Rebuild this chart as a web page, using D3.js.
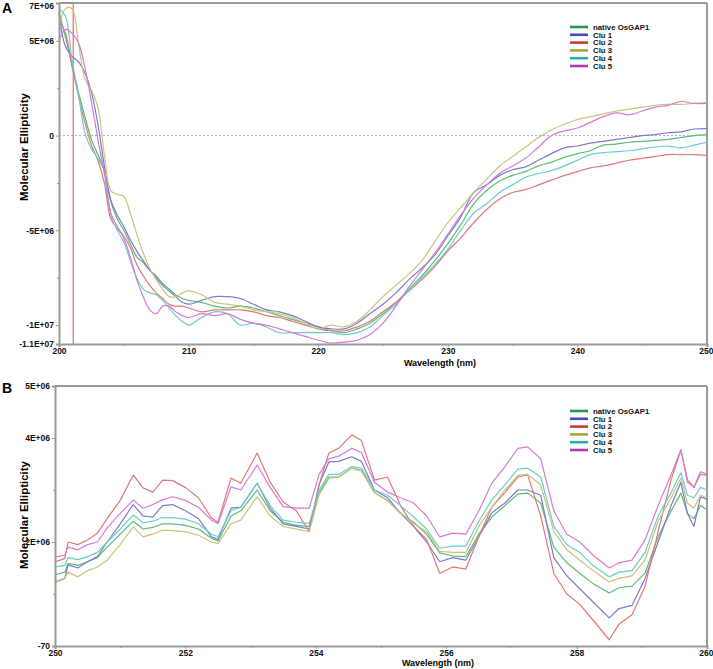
<!DOCTYPE html>
<html><head><meta charset="utf-8">
<script src="https://cdn.jsdelivr.net/npm/d3@7"></script>
<style>
body{margin:0;background:#fff;}
svg{display:block;font-family:"Liberation Sans",Arial,sans-serif;}
.tick text{font-weight:bold;fill:#111;}
</style></head><body>
<svg id="chart" width="713" height="669"></svg>
<script>
// ---------- DATA (values in units of 1E+06) ----------
const seriesNames = ["native OsGAP1","Clu 1","Clu 2","Clu 3","Clu 4","Clu 5"];

// Panel A : 200-250 nm
const wavelengthA = [200,200.5,201,201.5,202,202.5,203,203.5,204,204.5,205,205.5,206,206.5,207,207.5,208,208.5,209,209.5,210,
 211,212,213,214,215,216,217,218,219,220,221,222,223,224,225,226,227,228,229,230,231,232,233,234,235,236,237,238,239,240,241,242,243,244,245,246,247,248,249,250];
const nativeA = [6.5,5.2,3.7,2.3,1.0,-0.2,-1.0,-1.8,-3.5,-4.4,-5.0,-5.7,-6.4,-6.7,-7.1,-7.4,-7.8,-8.1,-8.4,-8.6,-8.7,
 -8.8,-9.0,-9.1,-9.0,-9.1,-9.3,-9.5,-9.7,-9.9,-10.1,-10.3,-10.4,-10.2,-9.9,-9.4,-8.8,-8.1,-7.4,-6.6,-5.7,-4.7,-3.6,-2.9,-2.4,-2.1,-1.9,-1.6,-1.4,-1.15,-0.95,-0.8,-0.5,-0.45,-0.35,-0.3,-0.25,-0.2,-0.1,0.0,0.05];
const clu1A = [6.5,4.7,4.2,3.9,3.3,2.3,0.6,-1.6,-3.4,-4.2,-4.8,-5.5,-6.1,-6.6,-7.1,-7.5,-7.9,-8.2,-8.5,-8.8,-8.9,
 -8.7,-8.5,-8.5,-8.6,-8.9,-9.2,-9.3,-9.5,-9.8,-10.1,-10.2,-10.2,-9.9,-9.4,-8.9,-8.3,-7.6,-7.0,-6.3,-5.3,-4.3,-3.0,-2.6,-2.1,-1.8,-1.65,-1.3,-0.95,-0.65,-0.55,-0.4,-0.3,-0.2,-0.1,0.0,0.05,0.15,0.2,0.35,0.37];
const clu2A = [6.1,5.4,3.7,2.1,0.7,-0.5,-1.3,-2.5,-4.4,-4.9,-5.3,-5.9,-6.8,-7.4,-7.9,-8.3,-8.6,-8.9,-9.0,-9.0,-9.1,
 -9.3,-9.2,-9.2,-9.2,-9.3,-9.5,-9.6,-9.8,-10.0,-10.2,-10.3,-10.3,-10.1,-9.8,-9.3,-8.8,-8.2,-7.6,-6.9,-6.1,-5.4,-4.6,-3.9,-3.35,-3.0,-2.85,-2.6,-2.35,-2.1,-1.9,-1.7,-1.6,-1.45,-1.3,-1.2,-1.1,-1.0,-1.0,-1.0,-1.05];
const clu3A = [5.6,6.7,6.7,4.9,3.0,2.4,1.5,-1.0,-2.9,-3.1,-3.2,-4.1,-5.2,-6.2,-7.0,-7.6,-8.1,-8.5,-8.5,-8.3,-8.2,
 -8.4,-8.8,-8.9,-9.0,-9.2,-9.3,-9.4,-9.6,-9.9,-10.2,-10.0,-10.1,-9.8,-9.2,-8.5,-7.9,-7.3,-6.6,-5.6,-4.6,-3.8,-3.0,-2.3,-1.6,-1.1,-0.6,-0.1,0.3,0.6,0.85,1.0,1.15,1.3,1.4,1.5,1.6,1.65,1.65,1.7,1.75];
const clu4A = [6.7,6.3,4.0,2.2,0.15,-0.7,-1.2,-1.9,-4.2,-5.0,-5.6,-6.6,-7.5,-8.1,-8.3,-8.4,-8.7,-9.1,-9.5,-9.8,-10.0,
 -9.6,-9.3,-9.4,-10.0,-9.9,-10.1,-10.4,-10.4,-10.4,-10.4,-10.4,-10.5,-10.4,-10.1,-9.5,-8.9,-8.2,-7.5,-6.8,-6.0,-5.0,-4.1,-3.6,-3.0,-2.6,-2.2,-2.0,-1.85,-1.6,-1.3,-1.0,-0.9,-0.85,-0.8,-0.7,-0.6,-0.55,-0.65,-0.5,-0.35];
const clu5A = [5.0,5.6,5.4,4.9,3.6,1.8,-0.2,-2.0,-4.1,-4.8,-5.4,-6.4,-7.6,-8.5,-9.2,-9.4,-9.0,-9.0,-9.3,-9.5,-9.6,
 -9.4,-9.5,-9.4,-9.7,-9.9,-10.0,-10.2,-10.4,-10.6,-10.8,-10.95,-10.9,-10.8,-10.5,-9.9,-9.0,-8.0,-7.1,-6.2,-5.2,-4.2,-3.3,-2.6,-2.0,-1.6,-1.2,-0.6,0.0,0.25,0.4,0.7,1.0,1.2,1.1,1.3,1.5,1.6,1.8,1.7,1.7];

// Panel B : 250-260 nm
const wavelengthB = [250.0,250.15,250.2,250.35,250.5,250.65,250.8,251.0,251.2,251.35,251.5,251.65,251.8,252.0,252.2,252.4,252.5,252.7,252.85,253.1,
 253.3,253.5,253.7,253.9,254.05,254.2,254.35,254.55,254.7,254.9,255.1,255.3,255.5,255.7,255.9,256.1,256.3,256.5,256.7,256.9,
 257.1,257.25,257.45,257.65,257.85,258.05,258.25,258.5,258.65,258.85,259.05,259.25,259.45,259.6,259.7,259.8,259.9,260.0];
const nativeB = [1.37,1.42,1.59,1.55,1.62,1.7,1.9,2.15,2.4,2.25,2.28,2.35,2.35,2.32,2.25,2.07,2.02,2.5,2.6,3.0,
 2.6,2.38,2.32,2.3,2.95,3.25,3.25,3.42,3.38,2.95,2.8,2.55,2.38,2.15,1.79,1.73,1.72,2.15,2.48,2.7,
 2.92,2.94,2.75,1.9,1.6,1.4,1.2,1.02,1.12,1.15,1.4,2.1,2.6,2.94,2.55,2.45,2.7,2.62];
const clu1B = [1.23,1.3,1.56,1.5,1.62,1.72,2.0,2.35,2.72,2.5,2.48,2.7,2.72,2.6,2.45,2.1,2.05,2.65,2.67,3.13,
 2.65,2.35,2.3,2.25,3.1,3.54,3.55,3.64,3.55,3.0,2.85,2.55,2.3,2.0,1.62,1.7,1.65,2.1,2.56,2.75,
 3.0,3.0,2.9,1.7,1.35,1.1,0.85,0.54,0.72,0.78,1.3,2.0,2.7,3.15,2.55,2.3,2.87,2.82];
const clu2B = [1.62,1.68,2.0,1.95,2.04,2.17,2.45,2.8,3.29,3.04,2.96,3.19,3.18,3.05,2.85,2.46,2.38,3.23,3.13,3.71,
 3.15,2.77,2.6,2.2,3.1,3.71,3.8,4.06,3.95,3.19,3.25,2.7,2.3,2.05,1.4,1.52,1.48,2.1,2.67,2.95,
 3.25,3.29,2.5,1.4,1.0,0.8,0.5,0.12,0.42,0.6,1.15,2.2,3.2,3.77,3.2,3.05,3.35,3.3];
const clu3B = [1.21,1.3,1.42,1.33,1.45,1.52,1.65,1.95,2.29,2.1,2.15,2.23,2.22,2.2,2.13,2.0,1.97,2.35,2.42,2.87,
 2.5,2.3,2.25,2.2,2.9,3.22,3.25,3.42,3.36,2.95,2.8,2.55,2.35,2.2,1.82,1.8,1.8,2.3,2.67,3.0,
 3.28,3.3,3.1,2.2,1.85,1.65,1.45,1.23,1.3,1.35,1.65,2.4,2.85,3.23,2.75,2.65,2.9,2.85];
const clu4B = [1.52,1.55,1.7,1.66,1.72,1.8,2.0,2.25,2.52,2.37,2.4,2.47,2.47,2.44,2.35,2.15,2.1,2.6,2.67,3.13,
 2.7,2.42,2.38,2.36,3.0,3.3,3.3,3.45,3.42,3.0,2.9,2.7,2.48,2.25,1.88,1.92,1.92,2.4,2.81,3.1,
 3.4,3.42,3.25,2.3,1.95,1.8,1.55,1.33,1.42,1.45,1.8,2.5,2.95,3.33,2.9,2.85,3.05,3.0];
const clu5B = [1.71,1.75,1.9,1.85,1.95,2.0,2.27,2.55,2.81,2.65,2.72,2.81,2.87,2.8,2.67,2.42,2.35,3.06,3.0,3.48,
 3.05,2.68,2.65,2.65,3.3,3.6,3.65,3.8,3.72,3.15,2.96,2.85,2.75,2.5,2.1,2.17,2.15,2.6,3.13,3.45,
 3.8,3.83,3.6,2.6,2.15,2.0,1.75,1.5,1.6,1.65,2.04,2.7,3.3,3.77,3.15,3.05,3.3,3.28];

// Ticks
const yTicksA = [7,5,0,-5,-10,-11];
const yTickLabelsA = ["7E+06","5E+06","0","-5E+06","-1E+07","-1.1E+07"];
const yMinorA = [2.5,-2.5,-7.5];
const xTicksA = [200,210,220,230,240,250];
const xMinorA = [205,215,225,235,245];
const yTicksB = [-0.00007,2,4,5];
const yTickLabelsB = ["-70","2E+06","4E+06","5E+06"];
const yMinorB = [1,3];
const xTicksB = [250,252,254,256,258,260];
const xMinorB = [251,253,255,257,259];
const markerWavelength = 201.1;

// ---------- STYLE ----------
const lineColors = ["#5bbd72","#7b7bd0","#e07878","#c9c47c","#6ccccc","#d77ad6"];
const legendColors = ["#1e9a45","#4848b8","#c83a3a","#a6a43a","#2aacac","#b53ab5"];
const axisColor = "#9a9a9a";

const svg = d3.select("#chart");

function panel(opt){
  const {x0,x1,y0,y1,xDom,yDom,wl,series,yTicks,yLabels,yMinor,xTicks,xMinor,legendY,yTitleY,xTitleY,letter,letterY} = opt;
  const x = d3.scaleLinear().domain(xDom).range([x0,x1]);
  const y = d3.scaleLinear().domain(yDom).range([y1,y0]);
  const g = svg.append("g");

  // frame (top + right)
  g.append("line").attr("x1",x0).attr("x2",x1).attr("y1",y0).attr("y2",y0).attr("stroke",axisColor).attr("stroke-width",2);
  g.append("line").attr("x1",x1).attr("x2",x1).attr("y1",y0).attr("y2",y1).attr("stroke",axisColor).attr("stroke-width",2);

  if(opt.zeroLine){
    g.append("line").attr("x1",x0).attr("x2",x1).attr("y1",y(0)).attr("y2",y(0))
     .attr("stroke","#aaa").attr("stroke-width",1).attr("stroke-dasharray","2,2");
  }
  if(opt.marker){
    g.append("line").attr("x1",x(opt.marker)).attr("x2",x(opt.marker)).attr("y1",y0).attr("y2",y1)
     .attr("stroke","#ee7777").attr("stroke-width",1.3);
  }

  const line = d3.line().x((d,i)=>x(wl[i])).y(d=>y(d)).curve(opt.curve||d3.curveLinear);
  series.forEach((s,k)=>{
    g.append("path").datum(s).attr("d",line).attr("fill","none")
     .attr("stroke",lineColors[k]).attr("stroke-width",1.2).attr("stroke-linejoin","round");
  });

  // axes
  const ya = g.append("g").attr("transform",`translate(${x0},0)`)
    .call(d3.axisLeft(y).tickValues(yTicks).tickSize(3).tickPadding(2).tickFormat((d,i)=>yLabels[i]));
  g.append("g").attr("transform",`translate(${x0},0)`)
    .call(d3.axisLeft(y).tickValues(yMinor).tickSize(2).tickFormat(""))
    .call(s=>s.select(".domain").remove());
  const xa = g.append("g").attr("transform",`translate(0,${y1})`)
    .call(d3.axisBottom(x).tickValues(xTicks).tickSize(3).tickPadding(1).tickFormat(d3.format("d")));
  g.append("g").attr("transform",`translate(0,${y1})`)
    .call(d3.axisBottom(x).tickValues(xMinor).tickSize(2).tickFormat(""))
    .call(s=>s.select(".domain").remove());
  [ya,xa].forEach(a=>{
    a.select(".domain").attr("stroke",axisColor).attr("stroke-width",2);
    a.selectAll(".tick text").attr("font-size",8.5).attr("font-weight","bold");
  });
  g.selectAll(".tick line").attr("stroke",axisColor);
  // keep edge labels inside the picture
  ya.selectAll(".tick text").filter(d=>y(d)<8).attr("dy","0.65em");
  xa.selectAll(".tick text").filter(d=>d===xTicks[xTicks.length-1]).attr("text-anchor","end").attr("dx","6");

  // titles
  g.append("text").attr("x",(x0+x1)/2 + 57).attr("y",xTitleY).attr("text-anchor","middle")
   .attr("font-size",9).attr("font-weight","bold").text("Wavelength (nm)");
  g.append("text").attr("transform",`translate(28,${yTitleY}) rotate(-90)`).attr("text-anchor","middle")
   .attr("font-size",11.5).attr("font-weight","bold").text("Molecular Ellipticity");
  g.append("text").attr("x",2).attr("y",letterY).attr("font-size",14).attr("font-weight","bold").text(letter);

  // legend
  const lg = g.append("g");
  seriesNames.forEach((n,k)=>{
    const ly = legendY + k*7.8;
    lg.append("line").attr("x1",570).attr("x2",588).attr("y1",ly).attr("y2",ly)
      .attr("stroke",legendColors[k]).attr("stroke-width",2.6);
    lg.append("text").attr("x",593).attr("y",ly+2.8).attr("font-size",7.8).attr("font-weight","bold").attr("fill","#111").text(n);
  });
}

panel({x0:59,x1:707,y0:3,y1:344,xDom:[200,250],yDom:[-11,7],wl:wavelengthA,
  series:[nativeA,clu1A,clu2A,clu3A,clu4A,clu5A],yTicks:yTicksA,yLabels:yTickLabelsA,yMinor:yMinorA,
  xTicks:xTicksA,xMinor:xMinorA,legendY:27,yTitleY:147,xTitleY:366,letter:"A",letterY:13,
  zeroLine:true,marker:markerWavelength,curve:d3.curveCatmullRom});

panel({x0:55,x1:707,y0:386,y1:646,xDom:[250,260],yDom:[-0.00007,5],wl:wavelengthB,
  series:[nativeB,clu1B,clu2B,clu3B,clu4B,clu5B],yTicks:yTicksB,yLabels:yTickLabelsB,yMinor:yMinorB,
  xTicks:xTicksB,xMinor:xMinorB,legendY:411,yTitleY:515,xTitleY:666,letter:"B",letterY:393});
</script>
</body></html>
